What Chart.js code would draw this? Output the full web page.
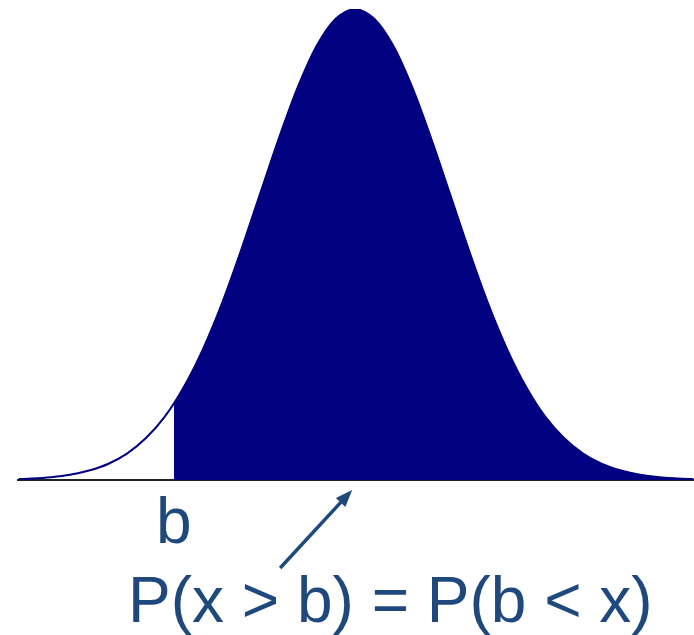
<!DOCTYPE html>
<html>
<head>
<meta charset="utf-8">
<script src="https://cdn.jsdelivr.net/npm/chart.js@4.4.1/dist/chart.umd.min.js"></script>
<style>
    html, body { margin: 0; padding: 0; background: #fff; }
    #wrap { position: relative; width: 694px; height: 635px; overflow: hidden; }
    .lbl { position: absolute; font-family: "Liberation Sans", Arial, sans-serif; font-size: 64px; line-height: 64px; color: #1f497d; white-space: nowrap; }
</style>
</head>
<body>
<div id="wrap">
    <canvas id="curve"></canvas>
    <div class="lbl" id="bLabel">b</div>
    <div class="lbl" id="probLabel">P(x &gt; b) = P(b &lt; x)</div>
</div>
<script>
// ---- data (x in std-devs, y relative to the peak) ----
const xs = [-3.54, -3.4, -3.2, -3.0, -2.8, -2.6, -2.4, -2.2, -2.0, -1.8, -1.6, -1.4, -1.2, -1.0, -0.8, -0.6, -0.4, -0.2,
            0, 0.2, 0.4, 0.6, 0.8, 1.0, 1.2, 1.4, 1.6, 1.8, 2.0, 2.2, 2.4, 2.6, 2.8, 3.0, 3.2, 3.4, 3.56];
const ys = [0.002, 0.003, 0.006, 0.011, 0.020, 0.034, 0.056, 0.089, 0.135, 0.198, 0.278, 0.375, 0.487, 0.607, 0.726, 0.835, 0.923, 0.980,
            1.000, 0.980, 0.923, 0.835, 0.726, 0.607, 0.487, 0.375, 0.278, 0.198, 0.135, 0.089, 0.056, 0.034, 0.020, 0.011, 0.006, 0.003, 0.002];
const bValue = -1.905;
const bHeight = 0.163;
const arrowTipX = -0.03;

const navy = '#000080';
const textBlue = '#1f497d';

const curvePts = xs.map((x, i) => ({ x, y: ys[i] }));
const shadedPts = [{ x: bValue, y: bHeight }].concat(curvePts.filter(p => p.x > bValue));

// arrow under the axis pointing at the shaded area
const arrowPlugin = {
    id: 'arrow',
    afterDraw(chart) {
        const { ctx, scales } = chart;
        const tipX = scales.x.getPixelForValue(arrowTipX);
        const tipY = scales.y.getPixelForValue(0) + 10;
        const tailX = tipX - 72, tailY = tipY + 78;
        const ang = Math.atan2(tipY - tailY, tipX - tailX);
        ctx.save();
        ctx.strokeStyle = textBlue;
        ctx.fillStyle = textBlue;
        ctx.lineWidth = 3.5;
        ctx.beginPath();
        ctx.moveTo(tailX, tailY);
        ctx.lineTo(tipX - 8 * Math.cos(ang), tipY - 8 * Math.sin(ang));
        ctx.stroke();
        ctx.beginPath();
        ctx.moveTo(tipX, tipY);
        ctx.lineTo(tipX - 17 * Math.cos(ang) + 6.5 * Math.sin(ang), tipY - 17 * Math.sin(ang) - 6.5 * Math.cos(ang));
        ctx.lineTo(tipX - 17 * Math.cos(ang) - 6.5 * Math.sin(ang), tipY - 17 * Math.sin(ang) + 6.5 * Math.cos(ang));
        ctx.closePath();
        ctx.fill();
        ctx.restore();

        // place the text labels from the scales
        const bLbl = document.getElementById('bLabel');
        bLbl.style.left = (scales.x.getPixelForValue(bValue) - bLbl.offsetWidth / 2) + 'px';
        bLbl.style.top = (scales.y.getPixelForValue(0) + 9) + 'px';
        const pLbl = document.getElementById('probLabel');
        pLbl.style.left = '128px';
        pLbl.style.top = (scales.y.getPixelForValue(0) + 88) + 'px';
    }
};

new Chart(document.getElementById('curve'), {
    type: 'line',
    data: {
        datasets: [
            {
                data: shadedPts,
                borderColor: navy,
                backgroundColor: navy,
                borderWidth: 1,
                fill: 'origin',
                pointRadius: 0,
                tension: 0.3,
            },
            {
                data: curvePts,
                borderColor: navy,
                borderWidth: 2,
                fill: false,
                pointRadius: 0,
                tension: 0.3,
            }
        ]
    },
    options: {
        responsive: true,
        maintainAspectRatio: false,
        animation: false,
        layout: { padding: { left: 18, right: 0, top: 9, bottom: 155 } },
        plugins: { legend: { display: false }, tooltip: { enabled: false } },
        scales: {
            x: {
                type: 'linear', min: -3.547, max: 3.568,
                ticks: { display: false },
                grid: { display: false, drawTicks: false },
                border: { display: true, color: '#222', width: 2 }
            },
            y: { display: false, min: 0, max: 1 }
        }
    },
    plugins: [arrowPlugin]
});
</script>
</body>
</html>
